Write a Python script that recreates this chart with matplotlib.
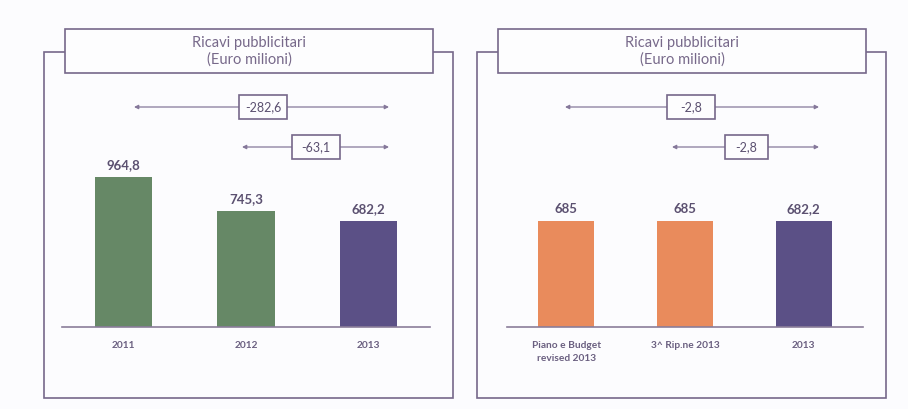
import matplotlib
matplotlib.use("Agg")
import matplotlib.pyplot as plt
from matplotlib.patches import Rectangle

plt.rcParams["font.family"] = ["Lato", "DejaVu Sans"]

# Data
left_categories = ["2011", "2012", "2013"]
left_values = [964.8, 745.3, 682.2]
left_colors = ["#668866", "#668866", "#5b5086"]

right_categories = ["Piano e Budget\nrevised 2013", "3^ Rip.ne 2013", "2013"]
right_values = [685, 685, 682.2]
right_colors = ["#e98b5c", "#e98b5c", "#5b5086"]

title_lines = "Ricavi pubblicitari\n(Euro milioni)"

W, H = 908, 409
fig = plt.figure(figsize=(W / 100, H / 100), dpi=100)
fig.patch.set_facecolor("#fcfcfe")

FRAME = "#76688a"
TEXT = "#5b5070"


def fmt(v):
    s = f"{v:.1f}".replace(".", ",")
    return s[:-2] if s.endswith(",0") else s


def px_axes(x0, x1, y_base, y_top):
    """Axes placed by pixel edges (y measured from the top of the figure)."""
    return fig.add_axes([x0 / W, (H - y_base) / H, (x1 - x0) / W, (y_base - y_top) / H])


# Overlay in pixel coordinates for frames, arrows and boxes
ov = fig.add_axes([0, 0, 1, 1])
ov.set_xlim(0, W)
ov.set_ylim(H, 0)
ov.axis("off")
ov.set_zorder(0)


def panel_frame(x0, x1, tx0, tx1):
    ov.add_patch(Rectangle((x0, 52), x1 - x0, 398 - 52, fill=False,
                           ec=FRAME, lw=1.2))
    ov.add_patch(Rectangle((tx0, 29), tx1 - tx0, 44, fc="#fdfdfe",
                           ec=FRAME, lw=1.2, zorder=3))
    ov.text((tx0 + tx1) / 2, 51.5, title_lines, ha="center", va="center",
            fontsize=10.5, color="#77698a", linespacing=1.25, zorder=4)


def delta_arrow(xa, xb, y, bx0, bx1, label):
    ov.annotate("", xy=(xa, y), xytext=(xb, y),
                arrowprops=dict(arrowstyle="<|-|>", color="#85789a", lw=0.9,
                                mutation_scale=6, shrinkA=0, shrinkB=0))
    ov.add_patch(Rectangle((bx0, y - 12), bx1 - bx0, 24, fc="#fdfdfe",
                           ec=FRAME, lw=1.2, zorder=3))
    ov.text((bx0 + bx1) / 2, y, label, ha="center", va="center",
            fontsize=9, color=TEXT, zorder=4)


panel_frame(44, 453, 65, 433)
panel_frame(477, 886, 498, 866)

delta_arrow(134, 389, 107, 239, 287, fmt(left_values[2] - left_values[0]))
delta_arrow(242, 389, 147, 292, 340, fmt(left_values[2] - left_values[1]))
delta_arrow(565, 819, 107, 667, 715, fmt(right_values[2] - right_values[0]))
delta_arrow(672, 819, 147, 725, 768, fmt(right_values[2] - right_values[1]))

YMAX = 1000
PX_PER_UNIT = 1 / 6.45


def bar_panel(x0, x1, cats, vals, colors):
    ax = px_axes(x0, x1, 327, 327 - YMAX * PX_PER_UNIT)
    ax.patch.set_alpha(0)
    ax.set_zorder(2)
    xs = range(len(vals))
    ax.bar(xs, vals, width=0.47, color=colors, zorder=2)
    for x, v in zip(xs, vals):
        ax.text(x, v + 38, fmt(v), ha="center", va="bottom",
                fontsize=9.5, color=TEXT, fontweight="bold")
    ax.set_xlim(-0.5, len(vals) - 0.5)
    ax.set_ylim(0, YMAX)
    for s in ["top", "right", "left"]:
        ax.spines[s].set_visible(False)
    ax.spines["bottom"].set_color("#8a7d9a")
    ax.spines["bottom"].set_linewidth(1.2)
    ax.set_yticks([])
    ax.set_xticks(list(xs))
    ax.set_xticklabels(cats, fontsize=7.3, color="#6a5f80",
                       fontweight="bold", linespacing=1.55)
    ax.tick_params(axis="x", length=0, pad=10)
    return ax


bar_panel(62, 430, left_categories, left_values, left_colors)
bar_panel(507, 863, right_categories, right_values, right_colors)

fig.savefig("out.png", dpi=100, facecolor=fig.get_facecolor())
